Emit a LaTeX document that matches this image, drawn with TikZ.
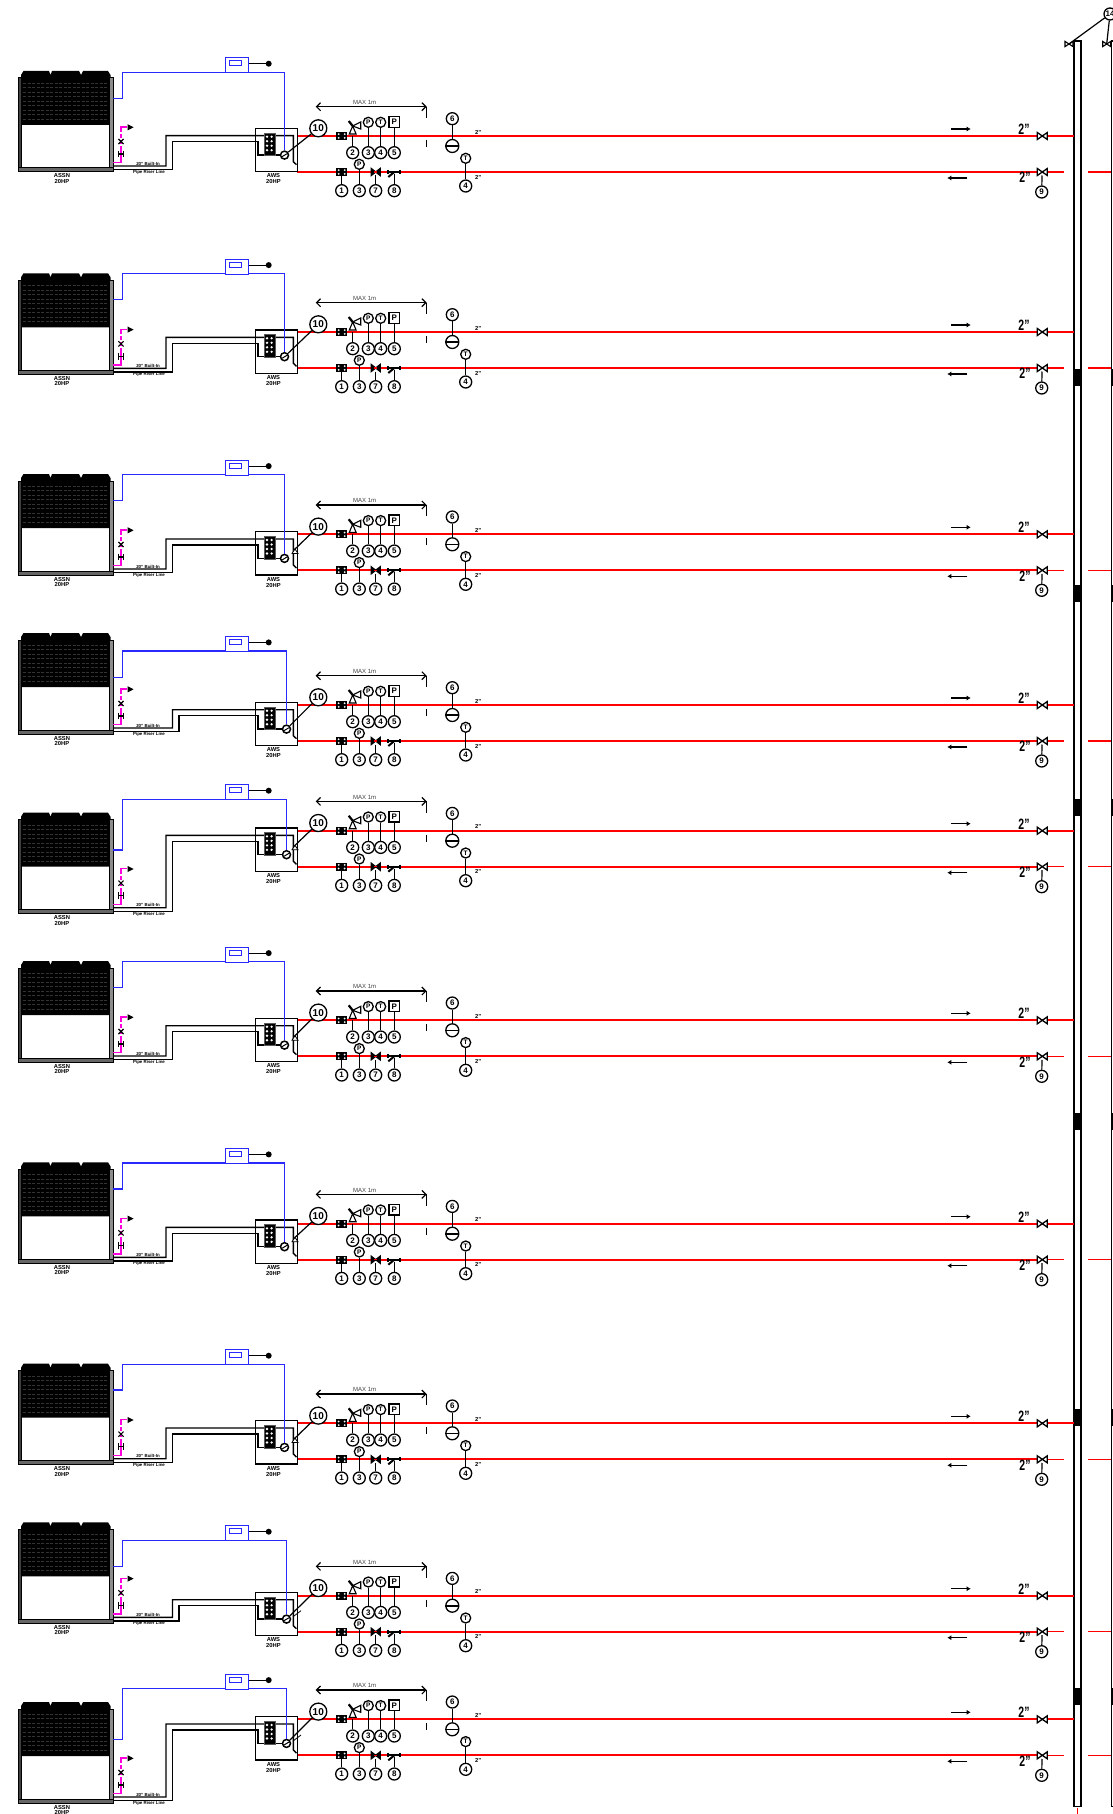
\documentclass[tikz,border=0pt]{standalone}
\usepackage{fontspec}
\setmainfont{Liberation Sans}
\usetikzlibrary{arrows.meta}
\definecolor{pipered}{RGB}{255,0,0}
\definecolor{ctlblue}{RGB}{40,40,255}
\definecolor{drainpk}{RGB}{255,0,220}
\tikzset{
  x=1pt,y=-1pt,
  wire/.style={line width=1.2pt,black},
  pipe/.style={line width=1.4pt,black,line join=miter},
  redl/.style={line width=1.8pt,pipered},
  redthin/.style={line width=1.1pt,pipered},
  ctl/.style={line width=1.1pt,ctlblue},
  drain/.style={line width=1.4pt,drainpk},
  num/.style={circle,draw,line width=1.3pt,fill=white,minimum size=12pt,inner sep=0pt,font=\fontsize{8}{8}\selectfont\bfseries},
  numbig/.style={num,minimum size=17pt,font=\fontsize{10}{10}\selectfont\bfseries},
  gauge/.style={circle,draw,line width=1.3pt,fill=white,minimum size=10pt,inner sep=0pt,font=\fontsize{6.5}{6.5}\selectfont\bfseries},
  psq/.style={rectangle,draw,line width=1.4pt,fill=white,minimum size=10.5pt,inner sep=0pt,font=\fontsize{8}{8}\selectfont\bfseries},
  tiny/.style={inner sep=0pt,font=\fontsize{5.8}{5.8}\selectfont\bfseries},
  micro/.style={inner sep=0pt,font=\fontsize{4.4}{4.4}\selectfont\bfseries},
  maxt/.style={inner sep=0pt,text=black!75,font=\fontsize{6}{6}\selectfont},
  sizet/.style={inner sep=0pt,font=\fontsize{15}{15}\selectfont\bfseries},
  bowtie/.pic={\draw[line width=1.3pt,fill=white] (-5,-3.5) -- (5,3.5) -- (5,-3.5) -- (-5,3.5) -- cycle;},
  bowred/.pic={\draw[line width=1.3pt,fill=black] (-4.5,-3.5) -- (4.5,3.5) -- (4.5,-3.5) -- (-4.5,3.5) -- cycle;
    \fill[pipered] (-1.5,-.6) rectangle (1.5,.6);},
  bowsmall/.pic={\draw[line width=1.1pt,fill=white] (-4,-2.6) -- (4,2.6) -- (4,-2.6) -- (-4,2.6) -- cycle;},
  strain/.pic={\fill (-5.3,-4) rectangle (5.3,4);
    \fill[white] (-3,-1.8) circle (1);\fill[white] (3,-1.8) circle (1);
    \fill[white] (-3,1.8) circle (1);\fill[white] (3,1.8) circle (1);},
  yvalve/.pic={\draw[line width=2pt] (-6,0) -- (6,0) (-6,-2) -- (-6,2) (6,-2) -- (6,2);
    \draw[line width=2pt] (0,0) -- (-6,5);},
  safety/.pic={\draw[line width=1.1pt,fill=white] (-3.4,-2) -- (3.4,-2) -- (0,-10) -- cycle;
    \draw[line width=1.1pt,fill=white] (0,-10) -- (8,-14) -- (8,-7) -- cycle;
    \draw[line width=2.2pt] (-4,-15) -- (0,-10);},
  dvalvex/.pic={\draw[line width=1.1pt] (-2.6,-2.6) -- (2.6,2.6) (-2.6,2.6) -- (2.6,-2.6);},
  dvalveh/.pic={\draw[line width=1.3pt] (-2.6,-3.4) -- (-2.6,3.4) (2.6,-3.4) -- (2.6,3.4) (-2.6,0) -- (2.6,0);},
}
\begin{document}
\begin{tikzpicture}
\useasboundingbox (0,0) rectangle (1113,1814);
\fill[white] (0,0) rectangle (1113,1814);
% risers
\draw[line width=1.4pt] (1074,41) rectangle (1081,1806.7);
\draw[line width=1.4pt] (1118,41) -- (1111.3,41) -- (1111.3,1806.7) -- (1118,1806.7);
\draw[redthin] (1077.4,1807.5) -- (1077.4,1814);
\foreach \b in {369,585,799,1113,1409,1688}{
  \fill (1074,\b) rectangle (1081,\b+16.7);
  \fill (1110.6,\b) rectangle (1114,\b+16.7);
}
\coordinate (topv1) at (1069,44);
\coordinate (topv2) at (1106.7,44);
\pic at (topv1) {bowsmall};
\pic at (topv2) {bowsmall};
\node[num] (c14) at (1110,14) {14};
\draw[wire] (c14) -- (topv1);
\draw[wire] (c14) -- (topv2);
% rows: n / U / blue top / exit / I / R / pipe x / blue x / mode
\foreach \n/\U/\BT/\EX/\I/\R/\PX/\BX/\M in {
 1/71/72.3/98.3/127.7/136/166/284.5/0,
 2/273.3/273.7/299.3/329.3/332/166/284.5/0,
 3/474/474.7/500.7/531/534.3/166/284.5/1,
 4/633/651/677.3/701.7/705/172.5/286.5/0,
 5/812.7/799.3/850/827.3/830.7/166/286.5/1,
 6/961/961.7/987.7/1017.7/1020.3/166/284.5/1,
 7/1162.3/1163/1189/1219.3/1223.7/166/284.5/1,
 8/1363.7/1364.3/1390/1420/1423.3/166/284.5/1,
 9/1522.3/1540.3/1566.7/1591.7/1595.7/172.5/286.5/2,
 10/1702/1688.7/1739.3/1716/1719.3/166/286.5/2}{
  \pgfmathsetmacro{\S}{\R+36}
  \pgfmathsetmacro{\Qx}{\PX+6.5}
  % red lines
  \draw[redl] (297,\R) -- (1074,\R);
  \draw[redl] (297,\S) -- (1042,\S);
  \draw[redthin] (1042,\S) -- (1064.3,\S);
  \draw[redthin] (1088.3,\S) -- (1111,\S);
  % outdoor unit
  \fill (21,\U+54) -- (21,\U+4) -- (23.5,\U) -- (49,\U) -- (50.5,\U+4) -- (52,\U) -- (79,\U) -- (81,\U+4) -- (83,\U) -- (108,\U) -- (110.5,\U+4) -- (110.5,\U+54) -- cycle;
  \foreach \g in {12,16.5,21,25.5,30,34.5,39,43.5,48}{
    \draw[black!80,line width=.25pt,dash pattern=on 3pt off 1.5pt] (23,\U+\g) -- (108,\U+\g);}
  \draw[line width=1pt,fill=black!75] (18,\U+7) rectangle (21.5,\U+101);
  \draw[line width=1pt,fill=black!45] (109.5,\U+7) rectangle (113,\U+101);
  \draw[line width=1pt,fill=black!60] (18,\U+97) rectangle (113,\U+101);
  \node[tiny] (oa\n) at (62,\U+105) {ASSN};
  \node[tiny] (ob\n) at (62,\U+110.5) {20HP};
  % indoor box
  \node[draw,line width=1.4pt,minimum width=42.5pt,minimum height=43.3pt,inner sep=0pt,anchor=north west] (ib\n) at (254.5,\I) {};
  \node[tiny] (ia\n) at (273.5,\I+48) {AWS};
  \node[tiny] (ic\n) at (273.5,\I+54) {20HP};
  % refrigerant pipes
  \draw[pipe] (113,\U+95) -- (\PX,\U+95) -- (\PX,\I+8) -- (293.3,\I+8) -- (293.3,\I+34) -- (296.5,\I+37);
  \draw[pipe] (113,\U+98.7) -- (\Qx,\U+98.7) -- (\Qx,\I+14) -- (258,\I+14) -- (258,\I+27.4) -- (\BX-4,\I+27.4);
  \node[micro] (pa\n) at (148,\U+92.5) {20" Built-In};
  \node[micro] (pb\n) at (149,\U+101.5) {Pipe Riser Line};
  % heat-exchanger block
  \node[draw=black!65,line width=1pt,fill=black,minimum width=11.5pt,minimum height=22.5pt,inner sep=0pt,anchor=north west] (gr\n) at (263.5,\I+5) {};
  \foreach \dy in {8.4,12.9,17.4,21.9}{
    \fill[white] (267,\I+\dy+.6) circle (1.3);
    \fill[white] (271.6,\I+\dy+.6) circle (1.3);}
  % pump circle
  \node[circle,draw,line width=1.5pt,fill=white,minimum size=8pt,inner sep=0pt] (pm\n) at (\BX,\I+27.4) {};
  \draw[line width=1pt] (\BX-2.5,\I+29) -- (\BX+2.5,\I+26);
  % control wire
  \draw[ctl] (113,\EX) -- (122.5,\EX) -- (122.5,\BT) -- (\BX,\BT) -- (pm\n);
  \node[draw=ctlblue,line width=1.1pt,fill=white,minimum width=22.5pt,minimum height=15pt,inner sep=0pt,anchor=north west] (thb\n) at (225,\BT-15) {};
  \node[draw=ctlblue,line width=.9pt,minimum width=12pt,minimum height=5pt,inner sep=0pt] (thc\n) at (235,\BT-9) {};
  \node[circle,fill=black,minimum size=6pt,inner sep=0pt] (thd\n) at (268.7,\BT-8.6) {};
  \coordinate (the\n) at (249,\BT-8.6);
  \draw[wire] (the\n) -- (thd\n);
  % drain
  \draw[drain] (113,\U+91.5) -- (121,\U+91.5) -- (121,\U+79);
  \draw[drain,dash pattern=on 4pt off 2pt] (121,\U+79) -- (121,\U+58);
  \draw[drain] (121,\U+58) -- (121,\U+56) -- (127,\U+56);
  \draw[line width=1pt,fill=black] (128,\U+54) -- (128,\U+58.6) -- (132.5,\U+56.3) -- cycle;
  \pic at (121,\U+70.5) {dvalvex};
  \pic at (121,\U+83) {dvalveh};
  % MAX 1m
  \coordinate (ml\n) at (315.7,\R-29.3);
  \coordinate (mr\n) at (426.7,\R-29.3);
  \draw[wire,{Straight Barb[length=4pt,width=8pt]}-{Straight Barb[length=4pt,width=8pt]}] (ml\n) -- (mr\n);
  \draw[wire] (mr\n) -- (426.7,\R-18);
  \draw[wire] (426.7,\R+4) -- (426.7,\R+11);
  \node[maxt] (mt\n) at (364.7,\R-33.5) {MAX 1m};
  % upper line instruments
  \pic at (341.7,\R) {strain};
  \coordinate (jb\n) at (352.7,\R);
  \node[num] (c2\n) at (352.7,\R+16.7) {2};
  \draw[wire] (jb\n) -- (c2\n);
  \pic at (352.7,\R) {safety};
  \node[gauge] (gp\n) at (368.3,\R-13.7) {P};
  \node[num] (c3\n) at (368.3,\R+16.7) {3};
  \draw[wire] (gp\n) -- (c3\n);
  \node[gauge] (gt\n) at (380.7,\R-13.7) {T};
  \node[num] (c4\n) at (380.7,\R+16.7) {4};
  \draw[wire] (gt\n) -- (c4\n);
  \node[psq] (gs\n) at (394.3,\R-14) {P};
  \node[num] (c5\n) at (394.3,\R+16.7) {5};
  \draw[wire] (gs\n) -- (c5\n);
  \node[num] (c6\n) at (452.3,\R-17.3) {6};
  \node[num,minimum size=13pt] (fm\n) at (452.3,\R+10) {};
  \draw[wire] (c6\n) -- (fm\n);
  \draw[line width=1.6pt] (fm\n.west) -- (fm\n.east);
  \node[gauge] (gt2\n) at (465.7,\R+22.3) {T};
  \node[num] (c42\n) at (465.7,\R+50) {4};
  \draw[wire] (gt2\n) -- (c42\n);
  \node[tiny] (sa\n) at (478.3,\R-4) {2"};
  \node[tiny] (sb\n) at (478.3,\S+5) {2"};
  % lower line instruments
  \pic at (341.7,\S) {strain};
  \coordinate (ja\n) at (341.7,\S+3.8);
  \node[num] (c1\n) at (341.7,\R+54.7) {1};
  \draw[wire] (ja\n) -- (c1\n);
  \node[gauge] (gp2\n) at (359.3,\S-7.7) {P};
  \node[num] (c32\n) at (359.3,\R+54.7) {3};
  \draw[wire] (gp2\n) -- (c32\n);
  \pic at (375.7,\S) {bowred};
  \coordinate (jg\n) at (375.7,\S+3.5);
  \node[num] (c7\n) at (375.7,\R+54.7) {7};
  \draw[wire] (jg\n) -- (c7\n);
  \pic at (394.3,\S) {yvalve};
  \coordinate (jh\n) at (394.3,\S+2);
  \node[num] (c8\n) at (394.3,\R+54.7) {8};
  \draw[wire] (jh\n) -- (c8\n);
  % circle 10
  \node[numbig] (c10\n) at (318.3,\R-7.7) {10};
  \ifnum\M=1
    \coordinate (ten\n) at (294,\I+19);
    \draw[wire] (c10\n) -- (ten\n);
    \draw[line width=.8pt,fill=white] (292,\I+22.5) -- (298,\I+22.5) -- (295,\I+18) -- cycle;
  \else
    \draw[wire] (c10\n) -- (pm\n);
  \fi
  \ifnum\M=2
    \draw[line width=.8pt] (293,\I+25) -- (301,\I+19);
  \fi
  % flow arrows, sizes, valves
  \coordinate (fa\n) at (951,\R-7);
  \coordinate (fb\n) at (970.7,\R-7);
  \draw[wire,-{Latex[length=4pt,width=5pt]}] (fa\n) -- (fb\n);
  \coordinate (fc\n) at (967.3,\S+6);
  \coordinate (fd\n) at (947.3,\S+6);
  \draw[wire,-{Latex[length=4pt,width=5pt]}] (fc\n) -- (fd\n);
  \node[sizet] (sc\n) at (1024,\R-6.7) {\scalebox{.7}[1]{2"}};
  \node[sizet] (sd\n) at (1025,\S+5.7) {\scalebox{.7}[1]{2"}};
  \pic at (1042.3,\R) {bowtie};
  \pic at (1042.3,\S) {bowtie};
  \coordinate (je\n) at (1042,\S+3.5);
  \node[num] (c9\n) at (1041.7,\S+20) {9};
  \draw[wire] (je\n) -- (c9\n);
}
\end{tikzpicture}
\end{document}
